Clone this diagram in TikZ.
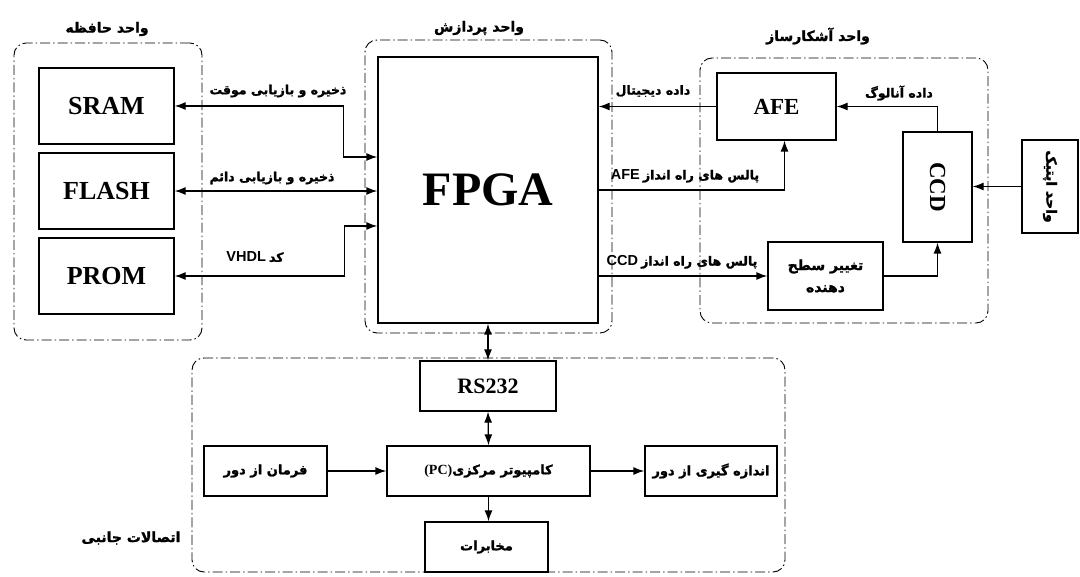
\documentclass[tikz,border=0pt]{standalone}
\usepackage{fontspec}
\usepackage{graphicx}
\usetikzlibrary{arrows.meta}
\setmainfont{Liberation Serif}
\newfontfamily\fafont[Script=Arabic, BoldFeatures={FakeBold=1.5}]{DejaVu Sans}
\newfontfamily\lsfont{Liberation Sans}
\TeXXeTstate=1
\newcommand{\fatxt}[1]{{\fafont\bfseries\beginR #1\endR}}
\newcommand{\latxt}[1]{{\lsfont\bfseries\fontsize{14.5}{16}\selectfont #1}}

\begin{document}
\begin{tikzpicture}[
  x=1pt, y=-1pt,
  >={Latex[length=11pt,width=8pt]},
  grp/.style={draw, rectangle, rounded corners=12pt, line width=0.9pt, dash pattern=on 10pt off 3pt on 1.5pt off 3pt, inner sep=0pt},
  blk/.style={draw, rectangle, line width=1.3pt, inner sep=0pt, align=center},
  memblk/.style={blk, minimum width=135pt, minimum height=76pt, font=\fontsize{26}{28}\selectfont\bfseries},
  sideblk/.style={blk, minimum height=50pt, font=\fontsize{13}{15}\selectfont},
  link/.style={line width=1.3pt},
  lbl/.style={inner sep=0pt, font=\fontsize{12.5}{14}\selectfont},
  title/.style={inner sep=0pt, font=\fontsize{14}{16}\selectfont}
]
\useasboundingbox (0,0) rectangle (1080,577);

% Unit frames
\node[grp, minimum width=188pt, minimum height=297pt] (memgrp) at (108,191.5) {};
\node[grp, minimum width=247pt, minimum height=293pt] (procgrp) at (488.5,186.5) {};
\node[grp, minimum width=288pt, minimum height=265pt] (detgrp) at (844,190.5) {};
\node[grp, minimum width=593pt, minimum height=214pt] (sidegrp) at (488.5,465) {};

% Unit titles
\node[title] (memtitle) at (107,29) {\fatxt{واحد حافظه}};
\node[title] (proctitle) at (479,28) {\fatxt{واحد پردازش}};
\node[title] (dettitle) at (818,36) {\fatxt{واحد آشکارساز}};
\node[title] (sidetitle) at (131,538) {\fatxt{اتصالات جانبی}};

% Memory unit
\node[memblk] (sram) at (106.5,106) {SRAM};
\node[memblk] (flash) at (106.5,191) {FLASH};
\node[memblk] (prom) at (106.5,276) {PROM};

% Processing unit
\node[blk, minimum width=220pt, minimum height=266pt, font=\fontsize{48}{50}\selectfont\bfseries] (fpga) at (488,190) {FPGA};

% Detector unit
\node[blk, minimum width=119pt, minimum height=67pt, font=\fontsize{23}{25}\selectfont\bfseries] (afe) at (776.5,106.5) {AFE};
\node[blk, minimum width=69pt, minimum height=110pt, font=\fontsize{23}{25}\selectfont\bfseries] (ccd) at (937.5,187) {\rotatebox{-90}{CCD}};
\node[blk, minimum width=115pt, minimum height=68pt, font=\fontsize{14}{22}\selectfont] (shifter) at (825.5,276) {\fatxt{تغییر سطح}\\\fatxt{دهنده}};
\node[blk, minimum width=56pt, minimum height=93pt, font=\fontsize{14}{16}\selectfont] (optic) at (1050,186.5) {\rotatebox{-90}{\fatxt{واحد اپتیک}}};

% Side connections
\node[blk, minimum width=136pt, minimum height=50pt, font=\fontsize{22}{24}\selectfont\bfseries] (rs) at (488,386) {RS232};
\node[sideblk, minimum width=203pt] (pc) at (488.5,471) {{\fontsize{14}{16}\selectfont\bfseries(PC)}\fatxt{کامپیوتر مرکزی}};
\node[sideblk, minimum width=123pt] (cmd) at (265.5,471) {\fatxt{فرمان از دور}};
\node[sideblk, minimum width=132pt] (meas) at (711,471) {\fatxt{اندازه گیری از دور}};
\node[sideblk, minimum width=123pt] (tel) at (486.5,547) {\fatxt{مخابرات}};

% Connector labels
\node[lbl] (tmpmem) at (278,91) {\fatxt{ذخیره و بازیابی موقت}};
\node[lbl] (permmem) at (272,178) {\fatxt{ذخیره و بازیابی دائم}};
\node[lbl] (vhdl) at (255,257) {\latxt{VHDL} \fatxt{کد}};
\node[lbl] (digdata) at (653,91) {\fatxt{داده دیجیتال}};
\node[lbl] (anadata) at (899,93) {\fatxt{داده آنالوگ}};
\node[lbl] (afepulse) at (685,176) {\latxt{AFE} \fatxt{پالس های راه انداز}};
\node[lbl] (ccdpulse) at (682,262) {\latxt{CCD} \fatxt{پالس های راه انداز}};

% Connectors
\draw[link,<->] (sram.east) -- ++(169,0) |- ([yshift=33pt]fpga.west);
\draw[link,<->] (flash.east) -- (flash.east -| fpga.west);
\draw[link,<->] (prom.east) -- ++(170,0) |- ([yshift=-36pt]fpga.west);
\draw[link,->] (afe.west) -- (afe.west -| fpga.east);
\draw[link,->] (ccd.north) |- (afe.east);
\draw[link,->] (fpga.east) -| ([xshift=8pt]afe.south);
\draw[link,->] (shifter.west -| fpga.east) -- (shifter.west);
\draw[link,->] (shifter.east) -| (ccd.south);
\draw[link,->] (optic.west) -- (optic.west -| ccd.east);
\draw[link,<->] (fpga.south) -- (rs.north);
\draw[link,<->] (rs.south) -- (pc.north);
\draw[link,->] (cmd.east) -- (pc.west);
\draw[link,->] (pc.east) -- (meas.west);
\draw[link,->] (pc.south) -- (pc.south |- tel.north);

\end{tikzpicture}
\end{document}
